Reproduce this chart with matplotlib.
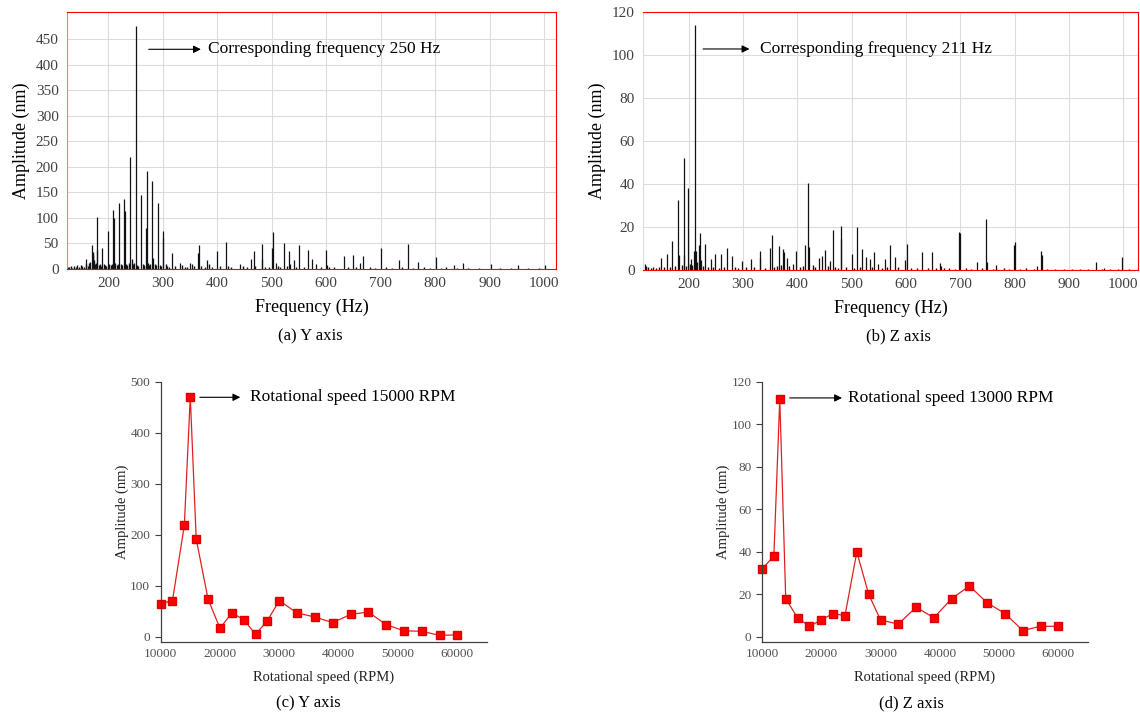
import numpy as np
import matplotlib
matplotlib.use("Agg")
from matplotlib import pyplot as plt

plt.rcParams['font.family'] = ['Liberation Serif', 'DejaVu Serif']

# ---- (a) Y axis spectrum: main spikes
y_freq = [159, 169, 179, 180, 189, 199, 209, 210, 220, 229, 230, 240, 250, 260,
          269.5, 270, 280, 282, 292, 300, 301, 317, 331, 350, 353, 365, 366, 382,
          399, 416, 442, 462, 467, 481.5, 482, 501, 502, 507, 523, 532, 534, 541.5,
          549.5, 567, 573.5, 581, 600, 601, 633.5, 650, 662, 667, 701, 733.5, 751,
          768, 801.5, 835, 851, 902.5, 953, 1002]
y_amp = [20, 46, 37, 102, 42, 75, 115, 99, 129, 137, 113, 220, 475, 145,
         80, 191, 173, 22, 130, 61, 74, 32, 12, 12, 9, 32, 47, 17,
         36, 52, 10, 19, 35, 48, 19, 42, 73, 12, 51, 36, 9, 17,
         46, 38, 20, 10, 37, 8, 25, 28, 12, 26, 42, 18, 48,
         13, 23, 7, 12, 10, 7, 8]
# low level floor
y_floor_freq = [126, 128, 131, 134, 137, 140, 143, 146, 149, 152, 155, 158, 162, 165,
                167, 171, 172, 173, 175, 177, 183, 185, 187, 192, 194, 196, 202, 204,
                206, 213, 215, 217, 223, 225, 233, 235, 237, 243, 245, 247, 253, 255,
                263, 265, 273, 275, 277, 285, 287, 295, 297, 305, 308, 312, 322, 335,
                340, 345, 358, 370, 378, 385, 390, 405, 420, 425, 447, 455, 470, 488,
                495, 512, 515, 528, 545, 560, 590, 605, 615, 640, 655, 680, 690, 710,
                720, 740, 760, 780, 790, 810, 820, 840, 860, 880, 920, 940, 970, 990]
y_floor_amp = [4, 3, 6, 2, 5, 4, 7, 3, 8, 5, 4, 9, 6, 12,
               14, 28, 34, 18, 9, 11, 7, 10, 6, 9, 8, 6, 10, 7,
               9, 12, 8, 10, 9, 7, 10, 8, 12, 20, 9, 11, 8, 6,
               9, 7, 12, 8, 9, 10, 7, 8, 6, 9, 5, 4, 6, 8,
               4, 3, 5, 6, 4, 9, 3, 5, 6, 4, 5, 3, 6, 4,
               3, 5, 4, 6, 4, 3, 4, 3, 4, 3, 4, 3, 2, 3,
               2, 3, 2, 3, 2, 2, 3, 2, 2, 2, 2, 2, 2, 2]

# ---- (b) Z axis spectrum
z_freq = [119, 149, 160, 170, 181, 183, 191, 192, 199, 205, 210, 211, 213, 219,
          220, 222, 230, 241, 249, 260, 271, 279, 299, 315, 331, 332, 349, 353,
          366, 374, 376, 381, 392, 397, 415, 419, 422, 439, 446, 451, 461, 465,
          480, 481, 500, 510, 519, 527, 533, 541, 549, 561, 571, 580, 598, 601,
          630, 648, 662, 665, 698, 699, 731, 748, 749, 766, 798, 800, 842, 848,
          850, 950, 964, 998]
z_amp = [2.6, 5.7, 7.3, 13.5, 32.5, 7, 52.3, 7, 38, 5, 9, 114, 9, 11.6,
         17, 4.6, 12, 5, 7.4, 7.4, 10.2, 6.5, 4, 5, 9, 5.4, 10.2, 16.3,
         11, 9.6, 8.5, 5.7, 3, 9, 11.5, 40.5, 10.5, 5.7, 6.5, 9.4, 4, 18.6,
         20.3, 14.5, 7.6, 19.8, 10, 6, 5.3, 8.4, 2.8, 5, 11.8, 6.2, 4.6, 12.3,
         8.6, 8.6, 3.4, 2, 17.6, 17, 3.8, 23.5, 3.5, 2.3, 11.5, 13, 2, 9,
         7.2, 3.5, 1, 5.9]
z_floor_freq = [122, 126, 130, 135, 140, 145, 155, 165, 175, 187, 195, 202, 207, 216,
                226, 235, 245, 255, 265, 285, 290, 305, 320, 340, 358, 362, 370, 385,
                405, 410, 428, 433, 456, 470, 475, 490, 505, 515, 537, 555, 565, 585,
                610, 620, 640, 655, 670, 680, 690, 710, 720, 740, 760, 780, 790, 810,
                820, 835, 860, 875, 890, 905, 920, 935, 960, 975, 990, 1010]
z_floor_amp = [2, 1.5, 1, 1.2, 0.8, 1.5, 1.2, 1.5, 1.8, 2.5, 2, 3, 2.5, 3.5,
               2, 1.5, 1.5, 1, 1.2, 1.5, 1, 1.5, 1.2, 1, 1.5, 2, 2.5, 1.8,
               1.5, 2, 2.5, 1.5, 2, 1.5, 1, 1.2, 1, 1.5, 1.2, 1, 1.5, 1.2,
               1, 0.8, 1, 0.8, 1, 0.8, 0.6, 0.8, 0.6, 0.8, 0.6, 0.8, 0.6, 0.6,
               0.8, 0.6, 0.5, 0.6, 0.5, 0.6, 0.5, 0.6, 0.5, 0.5, 0.6, 0.5]

# ---- (c)/(d) amplitude vs rotational speed
rpm_y = [10000, 12000, 14000, 15000, 16000, 18000, 20000, 22000, 24000, 26000, 28000,
         30000, 33000, 36000, 39000, 42000, 45000, 48000, 51000, 54000, 57000, 60000]
amp_y = [65, 71, 219, 471, 192, 74, 17, 47, 34, 5, 32,
         71, 47, 39, 28, 44, 49, 24, 12, 11, 3, 4]
rpm_z = [10000, 12000, 13000, 14000, 16000, 18000, 20000, 22000, 24000, 26000, 28000,
         30000, 33000, 36000, 39000, 42000, 45000, 48000, 51000, 54000, 57000, 60000]
amp_z = [32, 38, 112, 18, 9, 5, 8, 11, 10, 40, 20,
         8, 6, 14, 9, 18, 24, 16, 11, 3, 5, 5]

W, H = 1140, 715
fig = plt.figure(figsize=(W / 100, H / 100), dpi=100)


def px_axes(l, r, t, b):
    return fig.add_axes([l / W, 1 - b / H, (r - l) / W, (b - t) / H])


def spectrum(ax, f, a, ff, fa, xlim, ylim, yticks, left_red):
    ax.vlines(ff, 0, fa, color='#111111', lw=1.0)
    ax.vlines(f, 0, a, color='#111111', lw=0.9)
    ax.set_xlim(*xlim)
    ax.set_ylim(*ylim)
    ax.set_xticks(range(200, 1001, 100))
    ax.set_yticks(yticks)
    ax.grid(True, color='#dcdcdc', lw=0.8)
    ax.set_axisbelow(True)
    for s in ['top', 'right', 'bottom']:
        ax.spines[s].set_color('red')
    ax.spines['left'].set_color('#f08080' if left_red else '#dcdcdc')
    ax.tick_params(length=0, labelsize=11, colors='#404040', pad=6)
    ax.set_xlabel('Frequency (Hz)', fontsize=13, labelpad=6)
    ax.set_ylabel('Amplitude (nm)', fontsize=13)


ax1 = px_axes(67, 556, 12, 269)
spectrum(ax1, y_freq, y_amp, y_floor_freq, y_floor_amp, (124, 1022), (0, 503),
         range(0, 451, 50), True)
ax1.annotate('', xy=(375, 430), xytext=(269, 430),
             arrowprops=dict(arrowstyle='-|>', color='black', lw=0.8, mutation_scale=11))
ax1.text(383, 430, 'Corresponding frequency 250 Hz', fontsize=12.5, va='center')

ax2 = px_axes(643, 1138, 12, 270)
spectrum(ax2, z_freq, z_amp, z_floor_freq, z_floor_amp, (116, 1027), (0, 120),
         range(0, 121, 20), False)
ax2.annotate('', xy=(317, 102.8), xytext=(221.5, 102.8),
             arrowprops=dict(arrowstyle='-|>', color='black', lw=0.8, mutation_scale=11))
ax2.text(331, 102.8, 'Corresponding frequency 211 Hz', fontsize=12.5, va='center')


def speed(ax, x, y, ylim, yticks):
    ax.plot(x, y, color='#e02020', lw=0.9, marker='s', ms=5.5,
            mfc='#ff0000', mec='#dd0000', clip_on=False)
    ax.set_xlim(10000, 65000)
    ax.set_ylim(*ylim)
    ax.set_xticks(range(10000, 60001, 10000))
    ax.set_yticks(yticks)
    for s in ['top', 'right']:
        ax.spines[s].set_visible(False)
    for s in ['left', 'bottom']:
        ax.spines[s].set_color('#404040')
        ax.spines[s].set_linewidth(0.9)
    ax.spines['left'].set_bounds(ylim[0], yticks[-1])
    ax.tick_params(axis='y', length=4, width=0.8, color='#404040', direction='out')
    ax.tick_params(axis='x', length=0, pad=4)
    for lab in ax.get_xticklabels() + ax.get_yticklabels():
        lab.set_fontsize(9.5)
        lab.set_color('#505050')
    ax.set_xlabel('Rotational speed (RPM)', fontsize=10.5, color='#222222', labelpad=8)
    ax.set_ylabel('Amplitude (nm)', fontsize=10.5, color='#222222', labelpad=1)


ax3 = px_axes(160.6, 487, 382, 642)
speed(ax3, rpm_y, amp_y, (-10, 500), list(range(0, 501, 100)))
ax3.annotate('', xy=(23900, 470), xytext=(16140, 470),
             arrowprops=dict(arrowstyle='-|>', color='black', lw=0.8, mutation_scale=11))
ax3.text(25090, 470, 'Rotational speed 15000 RPM', fontsize=12.5, va='center')

ax4 = px_axes(762, 1088, 382, 642)
speed(ax4, rpm_z, amp_z, (-2.4, 120), list(range(0, 121, 20)))
ax4.annotate('', xy=(23970, 112.5), xytext=(14200, 112.5),
             arrowprops=dict(arrowstyle='-|>', color='black', lw=0.8, mutation_scale=11))
ax4.text(24480, 112.5, 'Rotational speed 13000 RPM', fontsize=12.5, va='center')

fig.text(310 / W, 1 - 336 / H, '(a) Y axis', fontsize=12, ha='center', va='center')
fig.text(898 / W, 1 - 336 / H, '(b) Z axis', fontsize=12, ha='center', va='center')
fig.text(308 / W, 1 - 703 / H, '(c) Y axis', fontsize=12, ha='center', va='center')
fig.text(911 / W, 1 - 703 / H, '(d) Z axis', fontsize=12, ha='center', va='center')

fig.savefig('out.png', dpi=100)
